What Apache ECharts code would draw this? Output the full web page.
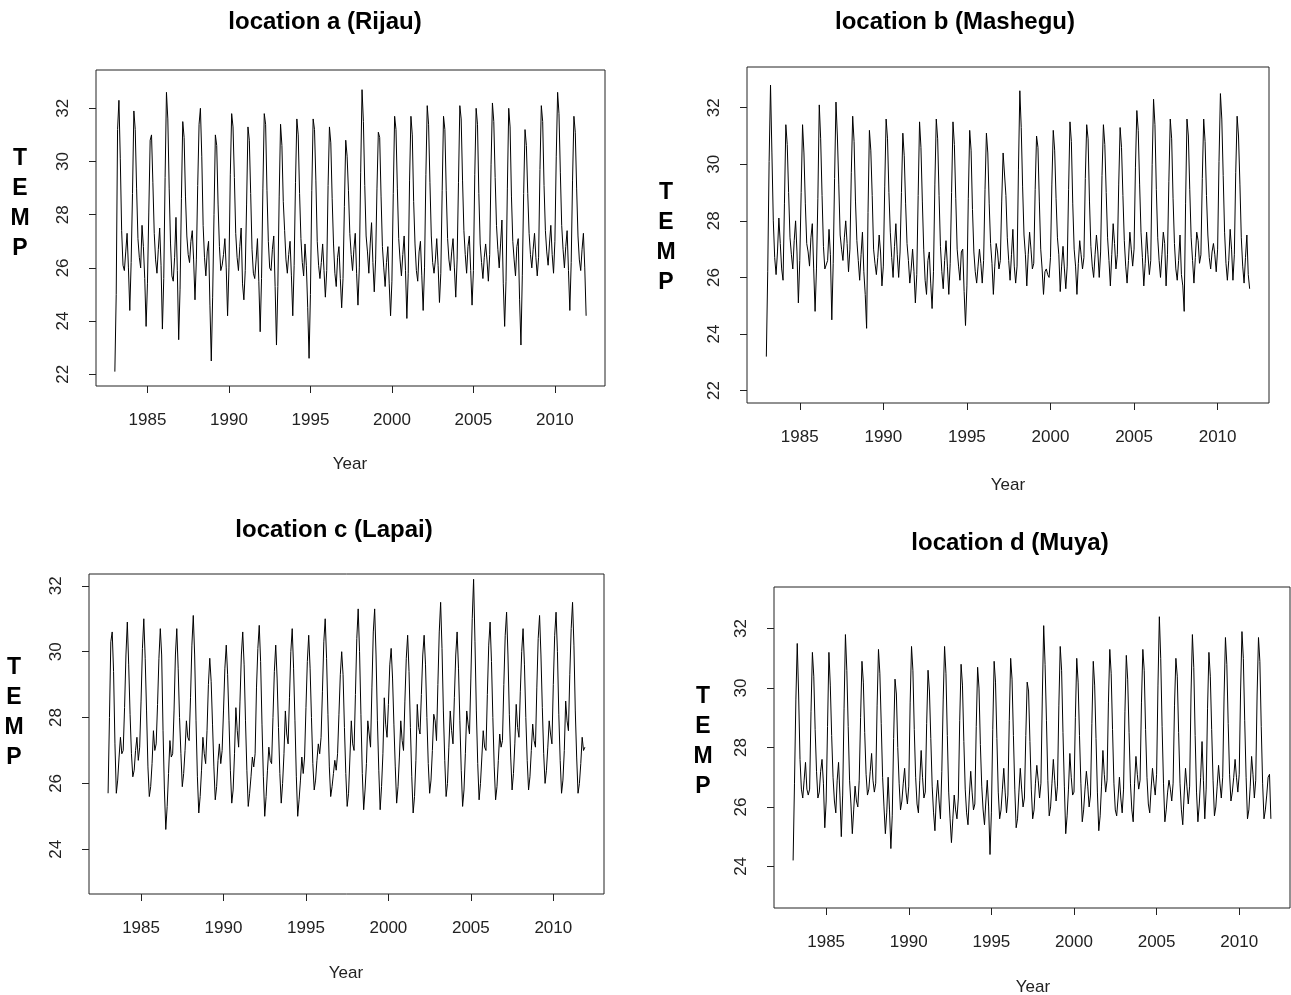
<!DOCTYPE html>
<html>
<head>
<meta charset="utf-8">
<script src="https://cdn.jsdelivr.net/npm/echarts@6/dist/echarts.min.js"></script>
<style>
  html, body { margin: 0; padding: 0; background: #fff; }
  #main { width: 1291px; height: 995px; }
</style>
</head>
<body>
<div id="main"></div>
<script>
// monthly mean temperature, one row per year (Jan..Dec), 1983-2011
var startYear = 1983;
var xTicks = [1985, 1990, 1995, 2000, 2005, 2010];
var yTicksTop = [22, 24, 26, 28, 30, 32];
var yTicksBottom = [24, 26, 28, 30, 32];
var titles = ['location a (Rijau)', 'location b (Mashegu)', 'location c (Lapai)', 'location d (Muya)'];

var rijau = [
  [22.1, 25.0, 31.2, 32.3, 30.1, 27.4, 26.1, 25.9, 26.6, 27.3, 26.0, 24.4],
  [26.2, 28.8, 31.9, 31.2, 29.0, 27.1, 26.4, 26.0, 27.6, 26.8, 25.6, 23.8],
  [25.4, 28.1, 30.8, 31.0, 29.2, 27.3, 26.3, 25.8, 26.7, 27.5, 26.1, 23.7],
  [25.6, 29.4, 32.6, 31.6, 29.0, 26.9, 25.7, 25.5, 26.4, 27.9, 25.9, 23.3],
  [25.2, 28.6, 31.5, 30.9, 28.7, 27.2, 26.5, 26.2, 27.0, 27.4, 26.3, 24.8],
  [26.3, 29.1, 31.4, 32.0, 30.2, 27.6, 26.4, 25.7, 26.6, 27.0, 24.6, 22.5],
  [24.9, 28.0, 31.0, 30.6, 28.4, 26.8, 25.9, 26.1, 26.5, 27.1, 26.0, 24.2],
  [26.0, 29.5, 31.8, 31.3, 29.4, 27.3, 26.4, 25.9, 26.8, 27.5, 25.4, 24.8],
  [25.9, 28.4, 31.3, 30.8, 28.8, 26.7, 25.8, 25.6, 26.3, 27.1, 25.5, 23.6],
  [25.6, 29.0, 31.8, 31.4, 28.9, 27.0, 26.0, 25.9, 26.7, 27.2, 25.3, 23.1],
  [25.3, 28.7, 31.4, 30.6, 28.5, 27.4, 26.3, 25.8, 26.5, 27.0, 25.7, 24.2],
  [26.1, 29.2, 31.6, 31.0, 28.8, 27.1, 26.2, 25.7, 26.9, 26.1, 24.5, 22.6],
  [25.0, 28.9, 31.6, 31.2, 29.3, 27.0, 26.1, 25.6, 26.2, 26.9, 25.9, 24.9],
  [25.9, 29.1, 31.3, 30.7, 28.6, 26.9, 25.8, 25.3, 26.4, 26.8, 25.6, 24.5],
  [25.6, 28.3, 30.8, 30.2, 28.9, 27.3, 26.5, 25.9, 26.7, 27.3, 25.8, 24.6],
  [26.0, 29.6, 32.7, 31.5, 29.1, 27.2, 26.6, 25.8, 26.9, 27.7, 26.2, 25.1],
  [26.3, 29.0, 31.1, 30.9, 28.7, 26.8, 26.0, 25.3, 26.2, 26.8, 25.4, 24.2],
  [25.5, 28.8, 31.7, 31.2, 29.0, 27.1, 26.3, 25.7, 26.5, 27.2, 25.9, 24.1],
  [25.8, 29.3, 31.7, 31.0, 28.5, 26.9, 25.9, 25.5, 26.6, 27.0, 25.7, 24.4],
  [26.0, 29.5, 32.1, 31.4, 29.2, 27.2, 26.2, 25.8, 26.3, 27.1, 26.1, 24.7],
  [25.8, 28.9, 31.7, 31.2, 28.9, 27.1, 26.3, 25.9, 26.6, 27.1, 26.0, 24.9],
  [26.3, 29.2, 32.1, 31.6, 29.3, 27.4, 26.5, 25.8, 26.8, 27.2, 25.9, 24.6],
  [25.9, 29.5, 32.0, 31.4, 28.8, 26.9, 26.2, 25.6, 26.4, 26.9, 26.3, 25.5],
  [26.5, 29.9, 32.2, 31.5, 29.4, 27.6, 26.7, 26.0, 26.9, 27.8, 25.4, 23.8],
  [25.5, 29.0, 32.0, 31.3, 28.7, 27.0, 26.3, 25.7, 26.8, 27.1, 24.8, 23.1],
  [25.7, 28.8, 31.2, 30.6, 28.8, 27.3, 26.5, 26.0, 26.7, 27.3, 26.4, 25.7],
  [26.4, 29.7, 32.1, 31.5, 29.1, 27.4, 26.6, 26.1, 26.9, 27.6, 26.5, 25.8],
  [27.0, 30.2, 32.6, 31.8, 29.6, 27.6, 26.7, 26.0, 26.8, 27.4, 25.9, 24.4],
  [26.2, 29.3, 31.7, 31.1, 29.0, 27.2, 26.3, 25.9, 26.7, 27.3, 26.0, 24.2]
];

var mashegu = [
  [23.2, 26.2, 30.1, 32.8, 30.4, 28.0, 26.7, 26.1, 26.9, 28.1, 27.2, 26.3],
  [25.9, 28.6, 31.4, 30.7, 29.0, 27.4, 26.8, 26.3, 27.3, 28.0, 26.9, 25.1],
  [26.6, 29.0, 31.4, 30.4, 28.6, 27.2, 26.9, 26.4, 27.4, 27.9, 26.3, 24.8],
  [26.3, 28.8, 32.1, 30.9, 28.9, 27.1, 26.3, 26.3, 26.6, 27.7, 26.8, 24.5],
  [26.5, 29.5, 32.2, 31.0, 29.3, 27.5, 27.0, 26.6, 27.4, 28.0, 27.2, 26.2],
  [27.0, 29.7, 31.7, 30.8, 28.7, 27.3, 26.6, 25.9, 26.8, 27.6, 26.2, 25.4],
  [24.2, 28.3, 31.2, 30.5, 28.9, 27.0, 26.5, 26.1, 26.7, 27.5, 26.9, 25.7],
  [26.4, 29.2, 31.6, 30.9, 29.0, 27.6, 26.7, 26.0, 27.1, 27.9, 26.8, 26.0],
  [26.9, 29.0, 31.1, 30.3, 28.6, 27.2, 26.6, 25.8, 26.3, 27.0, 26.2, 25.1],
  [26.1, 28.9, 31.5, 30.6, 28.7, 27.0, 25.9, 25.4, 26.6, 26.9, 25.8, 24.9],
  [26.2, 29.3, 31.6, 30.9, 28.9, 27.1, 26.2, 25.6, 26.6, 27.3, 26.4, 25.4],
  [26.5, 29.0, 31.5, 30.7, 28.8, 27.0, 26.4, 25.9, 26.9, 27.0, 25.5, 24.3],
  [25.7, 28.8, 31.2, 30.5, 28.4, 26.9, 26.2, 25.8, 26.4, 27.0, 26.5, 25.8],
  [26.6, 29.1, 31.1, 30.4, 28.6, 27.2, 26.5, 25.4, 26.4, 27.2, 26.9, 26.3],
  [26.6, 28.7, 30.4, 30.4, 28.9, 27.4, 26.6, 25.9, 26.8, 27.7, 26.4, 25.8],
  [26.4, 29.8, 32.6, 31.3, 29.2, 27.5, 26.8, 25.7, 26.8, 27.6, 27.0, 26.3],
  [26.5, 29.1, 31.0, 30.6, 28.7, 27.0, 26.3, 25.4, 26.2, 26.3, 26.1, 26.0],
  [26.7, 29.3, 31.2, 30.5, 28.8, 27.4, 26.8, 25.5, 26.4, 27.1, 26.3, 25.6],
  [26.4, 29.1, 31.5, 30.8, 28.6, 27.0, 26.4, 25.4, 26.5, 27.3, 26.8, 26.3],
  [26.7, 29.5, 31.4, 30.9, 28.7, 27.1, 26.4, 26.0, 26.8, 27.5, 26.9, 26.0],
  [26.9, 29.6, 31.4, 30.7, 29.0, 27.4, 26.6, 25.7, 26.8, 27.9, 27.2, 26.3],
  [26.8, 29.3, 31.3, 30.6, 28.9, 27.3, 26.4, 25.8, 26.6, 27.6, 27.0, 26.4],
  [27.0, 29.9, 31.9, 31.2, 29.3, 27.6, 26.7, 25.7, 26.5, 27.6, 26.8, 26.1],
  [26.6, 30.0, 32.3, 31.4, 29.1, 27.4, 26.6, 26.0, 26.8, 27.6, 27.2, 25.7],
  [26.8, 29.4, 31.6, 30.9, 28.8, 27.2, 26.3, 25.9, 26.6, 27.5, 26.1, 25.7],
  [24.8, 28.6, 31.6, 31.0, 29.1, 27.4, 26.6, 25.8, 26.7, 27.6, 27.3, 26.5],
  [26.8, 29.5, 31.6, 30.8, 28.9, 27.5, 26.7, 26.3, 26.9, 27.2, 26.8, 26.2],
  [27.0, 30.1, 32.5, 31.6, 29.6, 27.6, 26.5, 25.9, 26.6, 27.7, 27.0, 25.9],
  [26.8, 29.7, 31.7, 31.0, 29.3, 27.4, 26.4, 25.8, 26.7, 27.5, 26.1, 25.6]
];

var lapai = [
  [25.7, 28.0, 30.3, 30.6, 29.4, 27.2, 25.7, 26.1, 26.8, 27.4, 26.9, 27.0],
  [28.3, 29.9, 30.9, 29.6, 28.1, 26.9, 26.2, 26.4, 27.0, 27.4, 26.7, 27.1],
  [28.5, 30.1, 31.0, 29.8, 28.2, 26.5, 25.6, 25.9, 26.6, 27.6, 27.0, 27.2],
  [28.4, 29.8, 30.7, 29.9, 27.6, 25.8, 24.6, 25.3, 26.3, 27.3, 26.8, 26.9],
  [28.2, 29.9, 30.7, 29.5, 28.0, 26.9, 25.9, 26.3, 27.0, 27.9, 27.4, 27.3],
  [28.6, 30.2, 31.1, 29.9, 27.9, 26.2, 25.1, 25.6, 26.4, 27.4, 26.9, 26.6],
  [27.6, 29.0, 29.8, 29.1, 27.8, 26.5, 25.5, 25.9, 26.7, 27.2, 26.6, 27.0],
  [28.2, 29.5, 30.2, 29.3, 27.9, 26.4, 25.4, 25.8, 26.9, 28.3, 27.6, 27.1],
  [28.5, 29.9, 30.6, 29.6, 27.9, 26.4, 25.3, 25.7, 26.2, 26.8, 26.5, 26.9],
  [28.9, 30.1, 30.8, 29.7, 27.8, 26.2, 25.0, 25.6, 26.4, 27.1, 26.7, 26.6],
  [28.0, 29.4, 30.2, 29.2, 27.7, 26.3, 25.4, 26.0, 26.9, 28.2, 27.5, 27.2],
  [28.6, 30.0, 30.7, 29.5, 27.9, 26.2, 25.0, 25.5, 26.1, 26.8, 26.3, 26.8],
  [28.3, 29.7, 30.5, 29.5, 28.0, 26.6, 25.8, 26.1, 26.7, 27.2, 26.9, 27.4],
  [28.8, 30.3, 31.0, 29.8, 28.1, 26.5, 25.6, 25.9, 26.3, 26.7, 26.4, 26.9],
  [28.1, 29.3, 30.0, 29.3, 27.7, 26.3, 25.3, 25.7, 26.8, 27.9, 27.2, 27.0],
  [28.7, 30.4, 31.3, 30.0, 28.1, 26.3, 25.2, 25.8, 26.6, 27.9, 27.5, 27.1],
  [28.9, 30.6, 31.3, 29.9, 27.9, 26.4, 25.2, 25.9, 26.9, 28.6, 27.8, 27.4],
  [28.4, 29.6, 30.1, 29.2, 27.8, 26.5, 25.4, 25.9, 26.8, 27.9, 27.3, 27.0],
  [28.5, 29.8, 30.5, 29.4, 27.7, 26.2, 25.1, 25.6, 26.7, 28.4, 27.7, 27.5],
  [28.7, 29.9, 30.5, 29.6, 28.0, 26.6, 25.7, 26.1, 27.0, 28.1, 27.9, 27.3],
  [29.0, 30.6, 31.5, 30.1, 28.2, 26.7, 25.6, 26.0, 27.1, 28.2, 27.6, 27.2],
  [28.6, 29.9, 30.6, 29.5, 27.9, 26.4, 25.3, 25.8, 26.9, 28.2, 27.8, 27.5],
  [29.2, 31.0, 32.2, 30.3, 28.2, 26.6, 25.5, 26.0, 26.8, 27.6, 27.1, 27.0],
  [28.7, 30.2, 30.9, 29.7, 28.0, 26.5, 25.5, 25.9, 26.7, 27.5, 27.1, 27.3],
  [29.0, 30.5, 31.2, 29.9, 28.1, 26.8, 25.8, 26.3, 27.2, 28.4, 27.7, 27.4],
  [28.8, 30.0, 30.7, 29.6, 28.0, 26.7, 25.8, 26.2, 27.0, 27.8, 27.3, 27.1],
  [28.9, 30.4, 31.1, 29.9, 28.3, 26.9, 26.0, 26.4, 27.1, 27.9, 27.5, 27.2],
  [29.0, 30.5, 31.2, 30.0, 28.1, 26.7, 25.7, 26.1, 27.0, 28.5, 27.9, 27.6],
  [29.3, 30.7, 31.5, 30.2, 28.2, 26.8, 25.7, 26.0, 26.6, 27.4, 27.0, 27.1]
];

var muya = [
  [24.2, 26.8, 29.6, 31.5, 29.8, 27.6, 26.6, 26.3, 26.9, 27.5, 26.6, 26.4],
  [26.6, 29.2, 31.2, 30.4, 28.6, 27.2, 26.3, 26.5, 27.2, 27.6, 26.8, 25.3],
  [26.2, 28.7, 31.2, 30.1, 28.4, 27.0, 26.2, 25.8, 26.9, 27.5, 26.4, 25.0],
  [26.4, 29.3, 31.8, 30.6, 28.7, 26.9, 26.1, 25.1, 25.9, 26.7, 26.2, 26.0],
  [26.9, 29.0, 30.9, 30.2, 28.5, 27.1, 26.4, 26.6, 27.2, 27.8, 26.9, 26.5],
  [26.8, 29.4, 31.3, 30.5, 28.8, 27.0, 26.0, 25.1, 25.8, 27.0, 25.9, 24.6],
  [25.7, 28.3, 30.3, 29.8, 28.0, 26.8, 25.9, 26.2, 26.8, 27.3, 26.5, 26.1],
  [26.7, 29.5, 31.4, 30.6, 28.6, 27.0, 26.1, 25.8, 26.9, 27.9, 27.0, 26.3],
  [26.5, 28.8, 30.6, 29.9, 28.3, 26.7, 25.8, 25.2, 26.3, 26.9, 26.2, 25.6],
  [27.2, 29.6, 31.4, 30.5, 28.4, 26.5, 25.6, 24.8, 25.6, 26.4, 25.9, 25.6],
  [26.3, 28.9, 30.8, 30.1, 28.2, 26.6, 25.8, 25.4, 26.4, 27.2, 26.5, 25.9],
  [26.1, 28.7, 30.7, 30.0, 28.1, 26.7, 25.9, 25.4, 26.2, 26.9, 26.0, 24.4],
  [25.8, 28.6, 30.9, 30.2, 28.3, 26.5, 25.6, 25.9, 26.6, 27.3, 26.5, 25.8],
  [26.4, 28.9, 31.0, 30.3, 28.4, 26.6, 25.3, 25.6, 26.5, 27.3, 26.6, 26.0],
  [26.3, 28.4, 30.2, 29.9, 28.2, 26.6, 25.6, 25.9, 26.8, 27.4, 26.9, 26.3],
  [26.8, 29.7, 32.1, 30.8, 28.9, 26.9, 25.7, 26.0, 26.8, 27.6, 26.9, 26.2],
  [26.7, 29.4, 31.4, 30.6, 28.5, 26.7, 25.1, 25.7, 26.6, 27.8, 27.0, 26.4],
  [26.5, 29.0, 31.0, 30.2, 28.4, 26.8, 25.5, 25.9, 26.6, 27.2, 26.7, 26.0],
  [26.4, 28.8, 30.9, 30.1, 28.3, 26.5, 25.2, 25.7, 26.7, 27.9, 27.1, 26.5],
  [26.9, 29.5, 31.3, 30.5, 28.6, 26.8, 25.9, 25.7, 26.3, 27.0, 26.3, 25.8],
  [26.6, 29.2, 31.1, 30.3, 28.5, 26.8, 25.9, 25.5, 26.8, 27.7, 27.1, 26.6],
  [26.9, 29.5, 31.3, 30.6, 28.6, 27.0, 26.1, 25.8, 26.6, 27.3, 26.8, 26.4],
  [27.1, 30.1, 32.4, 31.0, 28.7, 26.8, 25.5, 25.9, 26.5, 26.9, 26.6, 26.2],
  [26.8, 29.4, 31.0, 30.4, 28.5, 26.8, 25.9, 25.4, 26.4, 27.3, 26.7, 26.1],
  [26.7, 29.8, 31.8, 30.7, 28.4, 26.5, 25.5, 26.1, 27.0, 28.2, 26.9, 25.6],
  [26.6, 29.3, 31.2, 30.4, 28.6, 26.9, 25.7, 26.0, 26.7, 27.4, 26.8, 26.3],
  [27.0, 29.7, 31.7, 30.8, 28.8, 27.1, 26.2, 26.5, 27.0, 27.6, 27.0, 26.5],
  [27.1, 29.9, 31.9, 31.0, 28.9, 27.0, 25.6, 25.9, 26.7, 27.7, 27.1, 26.3],
  [26.9, 29.8, 31.7, 30.9, 28.7, 26.8, 25.6, 25.9, 26.4, 27.0, 27.1, 25.6]
];

function toSeries(rows) {
  var out = [];
  rows.forEach(function (row, y) {
    row.forEach(function (v, m) {
      out.push([startYear + y + m / 12, v]);
    });
  });
  return out;
}

var font = 'Liberation Sans, Arial, Helvetica, sans-serif';
var ink = '#222';

// panel layout (pixels) and axis ranges
var panels = [
  { data: rijau,   grid: { left: 96,  top: 70,  width: 509, height: 316 }, ymin: 21.56, ymax: 33.44, yTicks: yTicksTop,    title: [325, 22],  year: [350, 464],  temp: [20, 204] },
  { data: mashegu, grid: { left: 747, top: 67,  width: 522, height: 336 }, ymin: 21.56, ymax: 33.44, yTicks: yTicksTop,    title: [955, 22],  year: [1008, 485], temp: [666, 238] },
  { data: lapai,   grid: { left: 89,  top: 574, width: 515, height: 320 }, ymin: 22.64, ymax: 32.36, yTicks: yTicksBottom, title: [334, 530], year: [346, 973],  temp: [14, 713] },
  { data: muya,    grid: { left: 774, top: 587, width: 516, height: 321 }, ymin: 22.6,  ymax: 33.4,  yTicks: yTicksBottom, title: [1010, 543], year: [1033, 987], temp: [703, 742] }
];

var grids = [], xAxes = [], yAxes = [], series = [], graphics = [];

function plain(v) {
  return String(v);
}

panels.forEach(function (p, i) {
  grids.push({
    left: p.grid.left, top: p.grid.top, width: p.grid.width, height: p.grid.height,
    show: true, borderColor: ink, borderWidth: 1, backgroundColor: 'transparent'
  });
  xAxes.push({
    gridIndex: i, type: 'value', min: 1981.843, max: 2013.074,
    axisLine: { show: false },
    axisTick: { show: true, customValues: xTicks, length: 7, lineStyle: { color: ink } },
    axisLabel: { customValues: xTicks, formatter: plain, margin: 26, fontSize: 17, color: ink, fontFamily: font },
    splitLine: { show: false }
  });
  yAxes.push({
    gridIndex: i, type: 'value', min: p.ymin, max: p.ymax,
    axisLine: { show: false },
    axisTick: { show: true, customValues: p.yTicks, length: 7, lineStyle: { color: ink } },
    axisLabel: { customValues: p.yTicks, formatter: plain, rotate: 90, margin: 24, fontSize: 17, color: ink, fontFamily: font },
    splitLine: { show: false }
  });
  series.push({
    type: 'line', xAxisIndex: i, yAxisIndex: i,
    data: toSeries(p.data),
    showSymbol: false, symbol: 'none', silent: true,
    lineStyle: { color: '#000', width: 1 }
  });
  graphics.push({
    type: 'text', x: p.title[0], y: p.title[1],
    style: { text: titles[i], font: 'bold 24px ' + font, fill: '#000', align: 'center', verticalAlign: 'middle' }
  });
  graphics.push({
    type: 'text', x: p.year[0], y: p.year[1],
    style: { text: 'Year', font: '17px ' + font, fill: ink, align: 'center', verticalAlign: 'middle' }
  });
  graphics.push({
    type: 'text', x: p.temp[0], y: p.temp[1],
    style: { text: 'T\nE\nM\nP', font: 'bold 23px ' + font, fill: '#000', align: 'center', verticalAlign: 'middle', lineHeight: 30 }
  });
});

var chart = echarts.init(document.getElementById('main'));
var option = {
  animation: false,
  backgroundColor: '#fff',
  grid: grids,
  xAxis: xAxes,
  yAxis: yAxes,
  series: series,
  graphic: graphics
};
chart.setOption(option);
window.onresize = function () {
  chart.resize();
};
</script>
</body>
</html>
